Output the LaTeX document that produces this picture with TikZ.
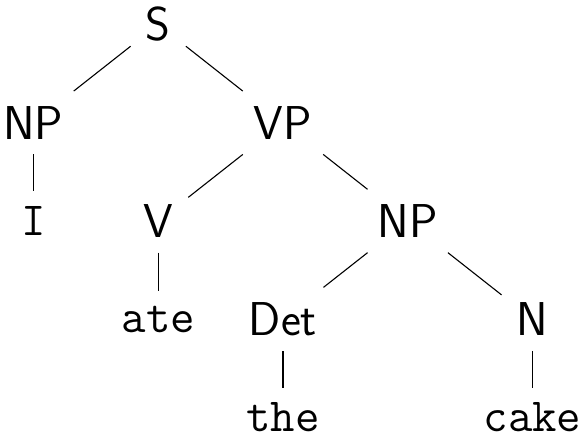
\documentclass[tikz,border=0pt]{standalone}
\tikzset{
  cat/.style={font=\fontsize{47.5}{57}\selectfont\sffamily, inner sep=15pt},
  word/.style={font=\fontsize{47.5}{57}\selectfont\ttfamily, inner sep=15pt},
  branch/.style={line width=1.1pt, black}
}
\begin{document}
\begin{tikzpicture}[x=1pt, y=-1pt]
\useasboundingbox (0,0) rectangle (580,435);
\node[cat]  (s)    at (158.25,24.5)  {S};
\node[cat]  (np1)  at (33.5,122.75)  {NP};
\node[cat]  (vp)   at (283,122.75)   {VP};
\node[word] (i)    at (33.5,221)     {I};
\node[cat]  (v)    at (158.25,221)   {V};
\node[cat]  (np2)  at (407.75,221)   {NP};
\node[word] (ate)  at (158.25,319.25) {ate};
\node[cat]  (det)  at (283,319.25)   {Det};
\node[cat]  (n)    at (532.5,319.25) {N};
\node[word] (the)  at (283,417.5)    {the};
\node[word] (cake) at (532.5,417.5)  {cake};
\draw[branch] (s) -- (np1);
\draw[branch] (s) -- (vp);
\draw[branch] (np1) -- (i);
\draw[branch] (vp) -- (v);
\draw[branch] (vp) -- (np2);
\draw[branch] (v) -- (ate);
\draw[branch] (np2) -- (det);
\draw[branch] (np2) -- (n);
\draw[branch] (det) -- (the);
\draw[branch] (n) -- (cake);
\end{tikzpicture}
\end{document}
